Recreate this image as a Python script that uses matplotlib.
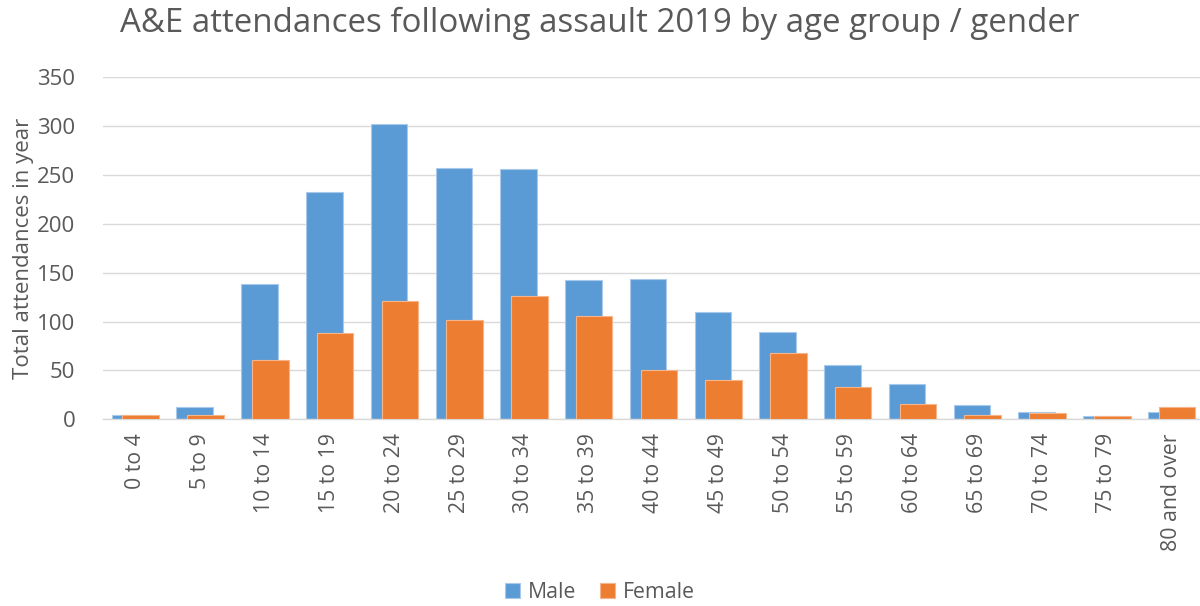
import matplotlib
matplotlib.use("Agg")
import matplotlib.pyplot as plt
import numpy as np

age_groups = ["0 to 4", "5 to 9", "10 to 14", "15 to 19", "20 to 24", "25 to 29",
              "30 to 34", "35 to 39", "40 to 44", "45 to 49", "50 to 54", "55 to 59",
              "60 to 64", "65 to 69", "70 to 74", "75 to 79", "80 and over"]
male = [4, 13, 138, 232, 302, 257, 256, 142, 143, 110, 89, 56, 36, 15, 7, 3, 7]
female = [4, 4, 61, 88, 121, 102, 126, 106, 50, 40, 68, 33, 16, 4, 6, 3, 13]

plt.rcParams["font.family"] = ["Open Sans", "DejaVu Sans"]
text_col = "#595959"
grid_col = "#d9d9d9"

fig = plt.figure(figsize=(12, 6.06), dpi=100)
ax = fig.add_axes([103 / 1200, 1 - 419.3 / 606, 1101 / 1200, (419.3 - 77) / 606])

x = np.arange(len(age_groups))
w = 0.565
off = 0.083
ax.bar(x - off, male, width=w, color="#5B9BD5", edgecolor="#a9c9ea",
       linewidth=0.8, label="Male", zorder=2)
ax.bar(x + off, female, width=w, color="#ED7D31", edgecolor="#f5b48a",
       linewidth=0.8, label="Female", zorder=3)

ax.set_xlim(-0.5, len(age_groups) - 0.5)
ax.set_ylim(0, 350)
ax.set_yticks(range(0, 351, 50))
ax.grid(axis="y", color=grid_col, linewidth=1, zorder=0)
ax.set_axisbelow(True)
for s in ["top", "right", "left"]:
    ax.spines[s].set_visible(False)
ax.spines["bottom"].set_color(grid_col)
ax.spines["bottom"].set_linewidth(1)

ax.set_xticks(x)
ax.set_xticklabels(age_groups, rotation=90, fontsize=15.3, color=text_col)
ax.tick_params(axis="x", length=0, pad=10)
ax.tick_params(axis="y", length=0, pad=20, labelsize=16, labelcolor=text_col)

ax.set_ylabel("Total attendances in year", fontsize=16, color=text_col, labelpad=2)
fig.text(0.5, 0.962, "A&E attendances following assault 2019 by age group / gender",
         ha="center", va="center", fontsize=23.8, color=text_col)

fig.legend(loc="center", bbox_to_anchor=(0.5, 0.022), ncol=2, frameon=False,
           fontsize=15.3, labelcolor=text_col, handlelength=0.7, handleheight=0.7,
           columnspacing=1.1, handletextpad=0.4)

fig.savefig("out.png", dpi=100)
